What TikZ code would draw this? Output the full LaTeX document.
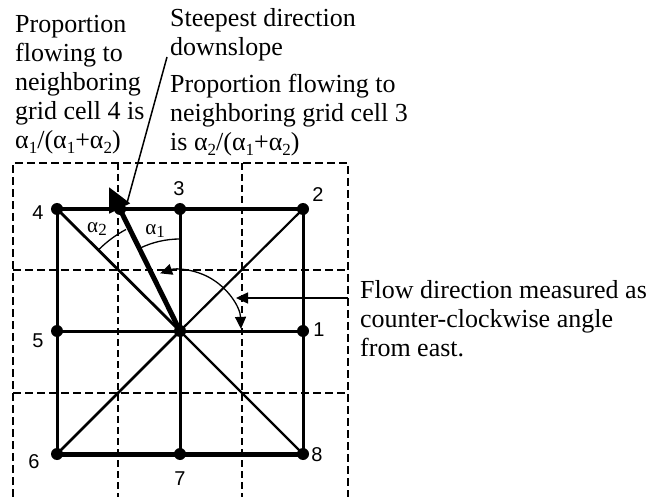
\documentclass[tikz,border=0pt]{standalone}
\usepackage{fontspec}
\setmainfont{Liberation Serif}
\newfontfamily\digitfont{Liberation Sans}
\usetikzlibrary{arrows.meta}
\newcommand{\alp}[1]{α\raisebox{-0.35ex}{\fontsize{17}{17}\selectfont #1}}
\begin{document}
\begin{tikzpicture}[x=1pt,y=-1pt,
  dot/.style={circle,fill=black,inner sep=0pt,minimum size=12pt},
  gridln/.style={line width=3pt},
  diag/.style={line width=2.2pt},
  dout/.style={dash pattern=on 8pt off 4pt,line width=2.7pt},
  dinh/.style={dash pattern=on 8pt off 4pt,line width=2.4pt},
  dinv/.style={dash pattern=on 7pt off 4pt,line width=1.8pt},
  txt/.style={font=\fontsize{26}{29}\selectfont,align=left,anchor=base west,inner sep=0pt},
  num/.style={font=\digitfont\fontsize{20}{20}\selectfont,inner sep=0pt},
  alab/.style={font=\fontsize{21}{21}\selectfont,inner sep=0pt},
  lead/.style={line width=1.5pt}]
\useasboundingbox (0,0) rectangle (656,497);
% dashed cell boundaries
\draw[dout] (13,497) -- (13,163) -- (348,163) -- (348,497);
\draw[dinv] (118,163) -- (118,497);
\draw[dinv] (242,163) -- (242,497);
\draw[dinh] (13,270) -- (348,270);
\draw[dinh] (13,393) -- (348,393);
% grid points
\node[dot] (n4) at (57,209) {};
\node[dot] (n3) at (180,209) {};
\node[dot] (n2) at (303,209) {};
\node[dot] (n5) at (57,331) {};
\node[dot] (c)  at (180,331) {};
\node[dot] (n1) at (303,331) {};
\node[dot] (n6) at (57,454) {};
\node[dot] (n7) at (180,454) {};
\node[dot] (n8) at (303,454) {};
\node[dot] (a)  at (120,209) {};
\coordinate (tip) at (109,187);
% solid grid lines
\draw[line width=3.5pt] (n4.center) -- (n3.center) -- (n2.center);
\draw[gridln] (n5.center) -- (c.center) -- (n1.center);
\draw[line width=5pt] (n6.center) -- (n7.center) -- (n8.center);
\draw[gridln] (n4.center) -- (n5.center) -- (n6.center);
\draw[gridln] (n3.center) -- (c.center) -- (n7.center);
\draw[gridln] (n2.center) -- (n1.center) -- (n8.center);
\draw[line width=2.8pt] (n4.center) -- (c.center);
\draw[diag] (c.center) -- (n8.center);
\draw[diag] (n2.center) -- (c.center);
\draw[line width=2.5pt] (c.center) -- (n6.center);
% steepest direction arrow
\draw[line width=5pt,-{Triangle[length=24pt,width=22pt]}] (c.center) -- (tip);
% angle arcs
\draw[line width=1.3pt] (c.center) ++(-90:92) arc[start angle=-90,end angle=-116,radius=92];
\draw[line width=1.3pt] (c.center) ++(-118:115) arc[start angle=-118,end angle=-135,radius=115];
\node[alab] (al1) at (155,231) {\alp{1}};
\node[alab] (al2) at (97,229) {\alp{2}};
% flow direction arc
\draw[line width=1.3pt,{Triangle[length=12pt,width=11pt]}-{Triangle[length=12pt,width=11pt]}]
  (c.center) ++(-2:61) arc[start angle=-2,end angle=-109,radius=61];
% numbers
\node[num] (l4) at (38,213) {4};
\node[num] (l3) at (179,189) {3};
\node[num] (l2) at (318,195) {2};
\node[num] (l5) at (38,341) {5};
\node[num] (l1) at (319,330) {1};
\node[num] (l6) at (34,462) {6};
\node[num] (l7) at (180,479) {7};
\node[num] (l8) at (317,455) {8};
% texts (anchor = baseline of last line)
\node[txt] (t4) at (15,149) {Proportion\\flowing to\\neighboring\\grid cell 4 is\\\alp{1}/(\alp{1}+\alp{2})};
\node[txt] (ts) at (170,56) {Steepest direction\\downslope};
\node[txt] (t3) at (170,151) {Proportion flowing to\\neighboring grid cell 3\\is \alp{2}/(\alp{1}+\alp{2})};
\node[txt] (tf) at (360,356) {Flow direction measured as\\counter-clockwise angle\\from east.};
% leaders
\coordinate (sl) at (167,57);
\coordinate (sh) at (127,203);
\draw[lead] (sl) -- (sh);
\coordinate (fl) at (348,298);
\coordinate (fa) at (236,298);
\draw[lead,-{Triangle[length=12pt,width=11pt]}] (fl) -- (fa);
\end{tikzpicture}
\end{document}
